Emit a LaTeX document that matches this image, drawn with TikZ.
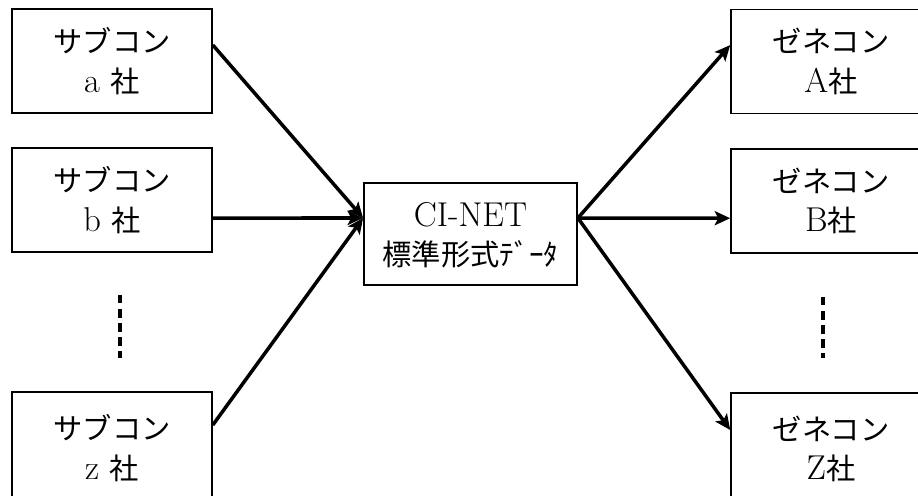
\documentclass[tikz,border=0pt]{standalone}
\usepackage{fontspec}
\newfontfamily\jp{Noto Sans CJK JP}[Scale=0.85]
\usetikzlibrary{arrows.meta}

\begin{document}
\begin{tikzpicture}[x=0.025cm, y=-0.025cm,
    box/.style={draw, line width=1.1pt, minimum width=5cm, minimum height=2.6cm,
        align=center, font=\fontsize{24.5}{28}\selectfont},
    flow/.style={line width=2.5pt, -{Stealth[length=11pt, width=10pt, inset=2.5pt]}},
    dots/.style={line width=2.4pt, dash pattern=on 6pt off 4pt}]
    \clip (0,0) rectangle (918,495);
    % subcontractors
    \node[box] (suba) at (112,61) {{\jp サブコン}\\a {\jp 社}};
    \node[box] (subb) at (112,200) {{\jp サブコン}\\b {\jp 社}};
    \node[box, minimum height=2.8cm] (subz) at (112,448) {{\jp サブコン}\\z {\jp 社}};
    \draw[dots] (120,295) -- (120,358);
    % standard data
    \node[box, minimum width=5.33cm, minimum height=2.55cm, text depth=0pt] (cinet) at (470.5,234)
        {CI-NET\\{\jp 標準形式ﾃﾞｰﾀ}};
    % general contractors
    \node[box] (gena) at (831,61.5) {{\jp ゼネコン}\\A{\jp 社}};
    \node[box] (genb) at (831,201) {{\jp ゼネコン}\\B{\jp 社}};
    \node[box, minimum height=2.8cm] (genz) at (831,449) {{\jp ゼネコン}\\Z{\jp 社}};
    \draw[dots] (823,297) -- (823,358);
    % arrows
    \draw[flow] ([yshift=0.4cm]suba.east) -- ([yshift=0.4cm]cinet.west);
    \draw[flow] ([yshift=-0.45cm]subb.east) -- ([yshift=0.4cm]cinet.west);
    \draw[flow] ([yshift=0.575cm]subz.east) -- ([yshift=0.4cm]cinet.west);
    \draw[flow] ([yshift=0.4cm]cinet.east) -- ([yshift=0.41cm]gena.west);
    \draw[flow] ([yshift=0.4cm]cinet.east) -- ([yshift=-0.43cm]genb.west);
    \draw[flow] ([yshift=0.4cm]cinet.east) -- ([yshift=0.475cm]genz.west);
\end{tikzpicture}
\end{document}
